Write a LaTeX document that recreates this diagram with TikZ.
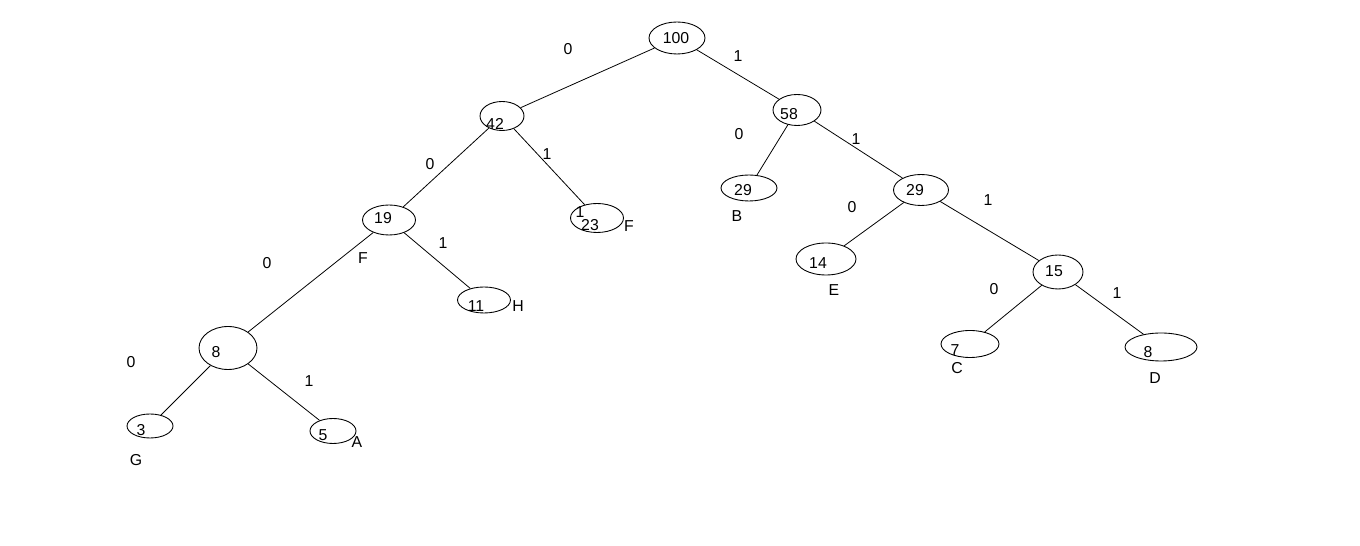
\documentclass[tikz,border=0pt]{standalone}
\usepackage{fontspec}
\setmainfont{Liberation Sans}
\usetikzlibrary{shapes.geometric}

\tikzset{
  hnode/.style={draw, ellipse, inner sep=0pt, line width=0.5pt},
  val/.style={inner sep=0pt, font=\fontsize{9}{10}\selectfont},
  bit/.style={inner sep=0pt, font=\fontsize{9}{10}\selectfont},
  edge/.style={line width=0.45pt}
}

\begin{document}
\begin{tikzpicture}[x=0.02cm, y=-0.02cm]
        \useasboundingbox (0,0) rectangle (1360,546);

        % Draw the ellipses of the tree
        \node[hnode, minimum width=1.12cm, minimum height=0.64cm] (n100) at (677,38) {};
        \node[hnode, minimum width=0.88cm, minimum height=0.58cm] (n42) at (502,116) {};
        \node[hnode, minimum width=0.96cm, minimum height=0.62cm] (n58) at (797,110) {};
        \node[hnode, minimum width=1.06cm, minimum height=0.60cm] (n19) at (389,220) {};
        \node[hnode, minimum width=1.06cm, minimum height=0.58cm] (n23) at (597,218) {};
        \node[hnode, minimum width=1.12cm, minimum height=0.52cm] (n29a) at (749,188) {};
        \node[hnode, minimum width=1.10cm, minimum height=0.62cm] (n29b) at (921,190) {};
        \node[hnode, minimum width=1.16cm, minimum height=0.86cm] (n8l) at (228,348) {};
        \node[hnode, minimum width=1.06cm, minimum height=0.52cm] (n11) at (484,300) {};
        \node[hnode, minimum width=1.20cm, minimum height=0.64cm] (n14) at (826,259) {};
        \node[hnode, minimum width=1.00cm, minimum height=0.68cm] (n15) at (1058,272) {};
        \node[hnode, minimum width=0.92cm, minimum height=0.48cm] (n3) at (150,426) {};
        \node[hnode, minimum width=0.92cm, minimum height=0.50cm] (n5) at (333,431) {};
        \node[hnode, minimum width=1.16cm, minimum height=0.54cm] (n7) at (970,344) {};
        \node[hnode, minimum width=1.44cm, minimum height=0.56cm] (n8r) at (1161,347) {};

        % Weights
        \node[val] (t100) at (676,38) {100};
        \node[val] (t42) at (495,124) {42};
        \node[val] (t58) at (789,114) {58};
        \node[val] (t19) at (383,218) {19};
        \node[val] (t23) at (590,225) {23};
        \node[val] (t29a) at (743,190) {29};
        \node[val] (t29b) at (915,190) {29};
        \node[val] (t8l) at (216,352) {8};
        \node[val] (t11) at (476,306) {11};
        \node[val] (t14) at (818,263) {14};
        \node[val] (t15) at (1054,271) {15};
        \node[val] (t3) at (141,430) {3};
        \node[val] (t5) at (323,435) {5};
        \node[val] (t7) at (955,350) {7};
        \node[val] (t8r) at (1148,352) {8};
        \node[val] (tone) at (580,212) {1};

        % Letters of the leaves
        \node[val] (lA) at (357,442) {A};
        \node[val] (lB) at (737,216) {B};
        \node[val] (lC) at (957,368) {C};
        \node[val] (lD) at (1155,378) {D};
        \node[val] (lE) at (834,290) {E};
        \node[val] (lF) at (629,226) {F};
        \node[val] (lFb) at (363,258) {F};
        \node[val] (lG) at (136,460) {G};
        \node[val] (lH) at (518,306) {H};

        % Draw the edges between the nodes
        \draw[edge] (n100) -- (n42);
        \draw[edge] (n100) -- (n58);
        \draw[edge] (n42) -- (n19);
        \draw[edge] (n42) -- (n23);
        \draw[edge] (n58) -- (n29a);
        \draw[edge] (n58) -- (n29b);
        \draw[edge] (n19) -- (n8l);
        \draw[edge] (n19) -- (n11);
        \draw[edge] (n29b) -- (n14);
        \draw[edge] (n29b) -- (n15);
        \draw[edge] (n8l) -- (n3);
        \draw[edge] (n8l) -- (n5);
        \draw[edge] (n15) -- (n7);
        \draw[edge] (n15) -- (n8r);

        % Bits on the edges
        \node[bit] (b1) at (568,49) {0};
        \node[bit] (b2) at (738,56) {1};
        \node[bit] (b3) at (430,164) {0};
        \node[bit] (b4) at (547,154) {1};
        \node[bit] (b5) at (739,134) {0};
        \node[bit] (b6) at (856,139) {1};
        \node[bit] (b7) at (267,263) {0};
        \node[bit] (b8) at (443,243) {1};
        \node[bit] (b9) at (852,207) {0};
        \node[bit] (b10) at (988,200) {1};
        \node[bit] (b11) at (131,362) {0};
        \node[bit] (b12) at (309,381) {1};
        \node[bit] (b13) at (994,289) {0};
        \node[bit] (b14) at (1117,293) {1};
    \end{tikzpicture}
\end{document}
